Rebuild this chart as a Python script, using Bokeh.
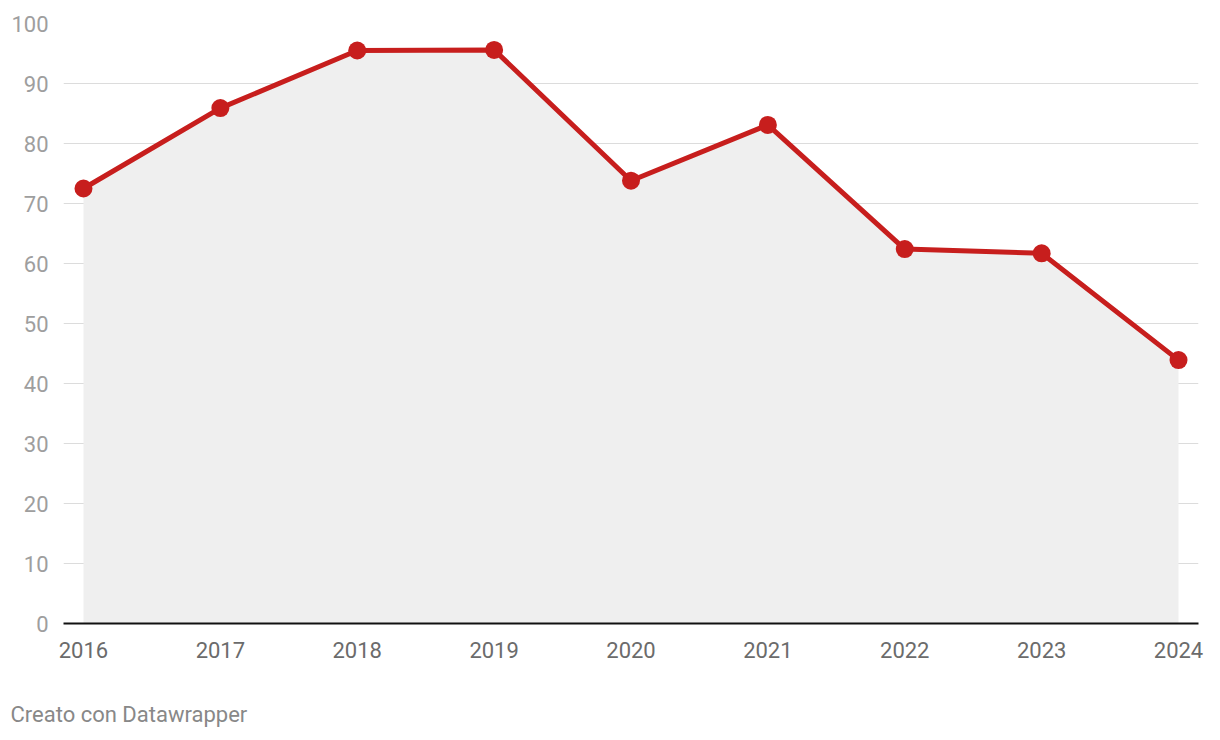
from bokeh.plotting import figure
from bokeh.models import ColumnDataSource, Range1d, FixedTicker, Title
from bokeh.embed import file_html
from bokeh.resources import INLINE

years = [2016, 2017, 2018, 2019, 2020, 2021, 2022, 2023, 2024]
values = [72.5, 85.9, 95.5, 95.6, 73.8, 83.1, 62.4, 61.7, 43.9]
y_ticks = [0, 10, 20, 30, 40, 50, 60, 70, 80, 90, 100]

src = ColumnDataSource(dict(x=years, y=values, base=[0] * len(years)))

p = figure(output_backend="svg", toolbar_location=None,
           frame_width=1135, frame_height=600,
           min_border_left=63, min_border_top=23, min_border_right=10,
           min_border_bottom=60,
           x_range=Range1d(2015.854, 2024.146), y_range=Range1d(0, 100))
p.outline_line_color = None
p.background_fill_color = "white"
p.border_fill_color = "white"

p.varea(x="x", y1="base", y2="y", source=src, fill_color="#efefef")
p.line(x="x", y="y", source=src, line_color="#c71e1d", line_width=5)
p.scatter(x="x", y="y", source=src, size=18, fill_color="#c71e1d", line_color=None)

p.xgrid.grid_line_color = None
p.ygrid.grid_line_color = "#dcdcdc"
p.ygrid.grid_line_width = 1.2
p.ygrid.ticker = FixedTicker(ticks=y_ticks)

p.yaxis.ticker = FixedTicker(ticks=y_ticks)
p.yaxis.axis_line_color = None
p.yaxis.major_tick_line_color = None
p.yaxis.minor_tick_line_color = None
p.yaxis.major_label_standoff = 9
p.yaxis.major_label_text_font = "Roboto"
p.yaxis.major_label_text_font_size = "22px"
p.yaxis.major_label_text_color = "#9e9e9e"

p.xaxis.ticker = FixedTicker(ticks=years)
p.xaxis.axis_line_color = "#111111"
p.xaxis.axis_line_width = 2
p.xaxis.major_tick_line_color = None
p.xaxis.minor_tick_line_color = None
p.xaxis.major_label_standoff = 12
p.xaxis.major_label_text_font = "Roboto"
p.xaxis.major_label_text_font_size = "22px"
p.xaxis.major_label_text_color = "#6b6b6b"

footer = Title(text="Creato con Datawrapper", align="left", offset=-53,
               text_font="Roboto", text_font_size="22px", text_font_style="normal",
               text_color="#888888", standoff=78)
p.add_layout(footer, "below")

open("out.html", "w").write(file_html(p, INLINE))
